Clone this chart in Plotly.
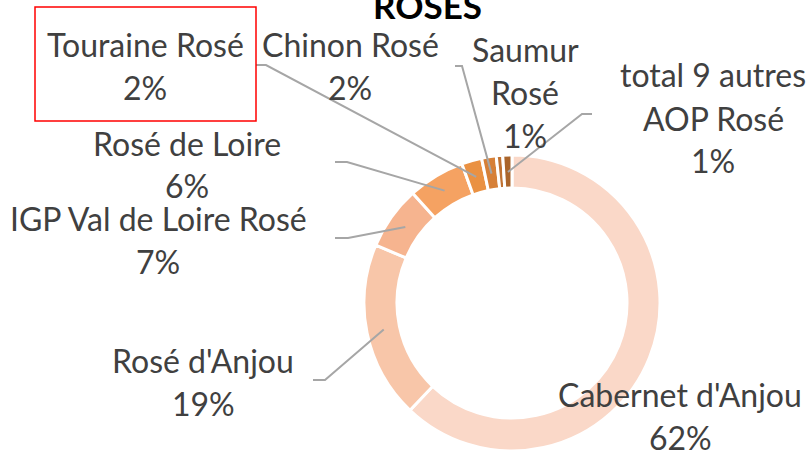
import math
import plotly.graph_objects as go

# ---------------- data ----------------
categories = ["Cabernet d'Anjou", "Rosé d'Anjou", "IGP Val de Loire Rosé", "Rosé de Loire",
              "Touraine Rosé", "Chinon Rosé", "Saumur Rosé", "total 9 autres AOP Rosé"]
shares = [62.1, 19.3, 6.9, 6.2, 2.2, 1.6, 0.7, 1.0]
colors = ["#FAD8C8", "#F8C6A9", "#F6B48F", "#F5A262", "#EA9142", "#D68038", "#C07232", "#AA652B"]
title_text = "ROSES"

# ---------------- layout helpers ----------------
W, H = 811, 451
CX, CY_TOP, R = 512, 303, 148      # donut centre (px from left / top) and outer radius
HOLE = 0.777
R_MID = 131

FONT = "Lato"
TXT = "#404040"
FS = 32
LINE_H = 43

# label layout: lines of text, centre x, y of first line (px from top)
label_layout = {
    "Cabernet d'Anjou": (["Cabernet d'Anjou"], 680, 394),
    "Rosé d'Anjou": (["Rosé d'Anjou"], 203, 360),
    "IGP Val de Loire Rosé": (["IGP Val de Loire Rosé"], 158, 218),
    "Rosé de Loire": (["Rosé de Loire"], 187, 143),
    "Touraine Rosé": (["Touraine Rosé"], 145, 45),
    "Chinon Rosé": (["Chinon Rosé"], 350, 45),
    "Saumur Rosé": (["Saumur", "Rosé"], 525, 50),
    "total 9 autres AOP Rosé": (["total 9 autres", "AOP Rosé"], 713, 75),
}
# leader lines: label-side start and elbow (px)
leader_layout = {
    "Rosé d'Anjou": [(313, 380), (325, 380)],
    "IGP Val de Loire Rosé": [(335, 238), (348, 238)],
    "Rosé de Loire": [(335, 162), (347, 162)],
    "Touraine Rosé": [(256, 65), (266, 65)],
    "Chinon Rosé": [(455, 66), (462, 66)],
    "total 9 autres AOP Rosé": [(592, 114), (582, 114)],
}


def px(x, y):
    return x / W, 1 - y / H


fig = go.Figure()
fig.add_trace(go.Pie(
    labels=categories, values=shares, sort=False, direction="clockwise", rotation=0,
    hole=HOLE, textinfo="none", hoverinfo="label+percent",
    marker=dict(colors=colors, line=dict(color="white", width=3)),
    domain=dict(x=[(CX - R) / W, (CX + R) / W], y=[0, 2 * R / H]),
    showlegend=False,
))

annotations = []
total = sum(shares)
for cat, v in zip(categories, shares):
    lines, x0, y0 = label_layout[cat]
    lines = lines + [f"{round(100 * v / total)}%"]
    for i, t in enumerate(lines):
        ax, ay = px(x0, y0 + i * LINE_H)
        annotations.append(dict(text=t, x=ax, y=ay, xref="paper", yref="paper",
                                xanchor="center", yanchor="middle", showarrow=False,
                                font=dict(family=FONT, size=FS, color=TXT)))

annotations.append(dict(text=f"<b>{title_text}</b>", x=427 / W, y=1 - 5 / H, xref="paper", yref="paper",
                        xanchor="center", yanchor="middle", showarrow=False,
                        font=dict(family=FONT, size=35, color="#000000")))

shapes = []
cum = 0.0
for cat, v in zip(categories, shares):
    mid = (cum + v / 2) / total
    cum += v
    if cat not in leader_layout:
        continue
    ang = 2 * math.pi * mid
    ex = CX + R_MID * math.sin(ang)
    ey = CY_TOP - R_MID * math.cos(ang)
    pts = leader_layout[cat] + [(ex, ey)]
    path = ""
    for j, (x, y) in enumerate(pts):
        a, b = px(x, y)
        path += ("M" if j == 0 else "L") + f"{a:.5f},{b:.5f} "
    shapes.append(dict(type="path", path=path.strip(), xref="paper", yref="paper",
                       line=dict(color="#A6A6A6", width=2)))

# red highlight box around the Touraine label
x0, y1 = px(35, 7)
x1, y0 = px(256, 121)
shapes.append(dict(type="rect", xref="paper", yref="paper", x0=x0, x1=x1, y0=y0, y1=y1,
                   line=dict(color="#FF0000", width=1.5)))

fig.update_layout(
    width=W, height=H, margin=dict(l=0, r=0, t=0, b=0),
    paper_bgcolor="white", plot_bgcolor="white",
    annotations=annotations, shapes=shapes,
)
fig.write_html("out.html", config={"displayModeBar": False},
               post_script="document.body.style.margin='0';document.body.style.overflow='hidden';")
